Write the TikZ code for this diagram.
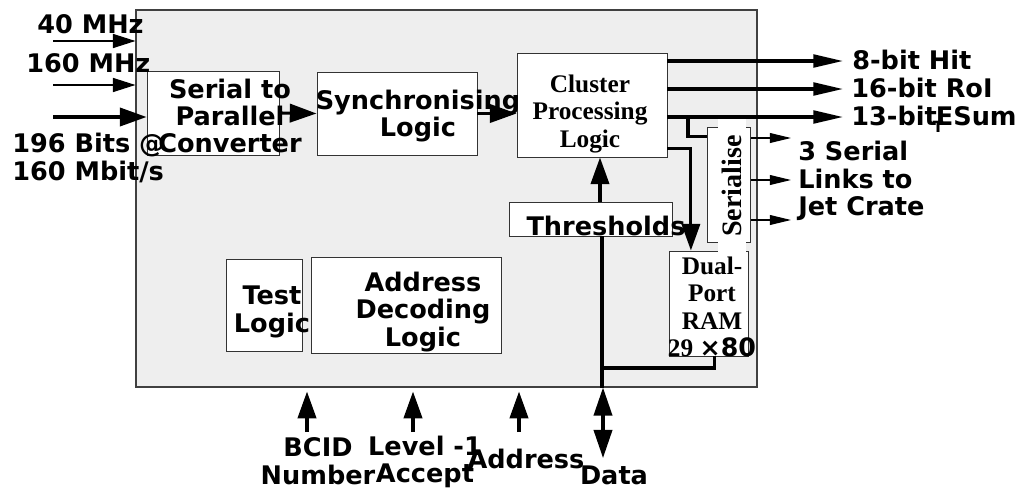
\documentclass[tikz,border=0pt]{standalone}
\usepackage{fontspec}
\setmainfont{Liberation Serif}
\setsansfont{DejaVu Sans}
\usetikzlibrary{arrows.meta}
\definecolor{boardgrey}{RGB}{238,238,238}
\tikzset{
  blk/.style={draw=black!80,line width=0.7pt,fill=white,inner sep=0pt},
  sflbl/.style={font=\sffamily\bfseries\fontsize{18.2}{19.5}\selectfont,inner sep=0pt,align=center},
  rmlbl/.style={font=\rmfamily\bfseries\fontsize{18}{19.5}\selectfont,inner sep=0pt,align=center},
  thk/.style={line width=2.2pt},
  thn/.style={line width=0.8pt},
  bigtip/.style={-{Triangle[length=19pt,width=13pt]}},
  thintip/.style={-{Triangle[length=16pt,width=10pt]}},
  outtip/.style={-{Triangle[length=21pt,width=9pt]}},
  sertip/.style={-{Triangle[length=15pt,width=7pt]}}
}
\begin{document}
\begin{tikzpicture}[x=0.25mm,y=-0.25mm]
\useasboundingbox (0,0) rectangle (1030,489);
\node[draw=black!75,line width=0.8pt,fill=boardgrey,minimum width=155.25mm,minimum height=94.25mm,inner sep=0pt] (board) at (446.5,198.5) {};

\node[blk,minimum width=33mm,minimum height=21mm] (s2p) at (213,113) {};
\node[blk,minimum width=40mm,minimum height=20.75mm] (sync) at (397,113.5) {};
\node[blk,minimum width=37.5mm,minimum height=26mm] (cpl) at (592,105) {};
\node[blk,minimum width=40.75mm,minimum height=8.5mm] (thr) at (590.5,219) {};
\node[blk,minimum width=10.75mm,minimum height=28.75mm] (ser) at (729,184.5) {};
\node[blk,minimum width=19.75mm,minimum height=26.25mm] (ram) at (708.5,303.5) {};
\node[blk,minimum width=19mm,minimum height=23mm] (tst) at (264,305) {};
\node[blk,minimum width=47.5mm,minimum height=24mm] (adl) at (406,305) {};

\node[sflbl,anchor=base west] (clk40) at (37,33) {40 MHz};
\node[sflbl,anchor=base west] (clk160) at (26,72) {160 MHz};
\node[sflbl,align=left,anchor=west] (bits) at (12,158) {196 Bits @\\160 Mbit/s};
\node[sflbl] (s2ptxt) at (230,116) {Serial to\\Parallel\\Converter};
\node[sflbl] (synctxt) at (418,116) {Synchronising\\Logic};
\node[rmlbl] (cpltxt) at (590,114) {Cluster\\Processing\\Logic};
\node[sflbl,anchor=base] (thrtxt) at (606,235) {Thresholds};
\node[rmlbl,font=\rmfamily\bfseries\fontsize{20}{20}\selectfont,rotate=90,fill=white,minimum width=33.5mm,minimum height=7mm] (sertxt) at (732,186) {Serialise};
\node[rmlbl] (ramtxt) at (712,307) {Dual-\\Port\\RAM\\29 {\sffamily ×80}};
\node[sflbl] (tsttxt) at (272,312) {Test\\Logic};
\node[sflbl] (adltxt) at (423,312) {Address\\Decoding\\Logic};
\node[sflbl,anchor=base west] (hit) at (852,69) {8-bit Hit};
\node[sflbl,anchor=base west] (roi) at (851,97) {16-bit RoI};
\node[sflbl,anchor=base west] (esum) at (851,125) {13-bit\hspace{-0.15em}\raisebox{-0.5ex}{\fontsize{11}{11}\selectfont T}\hspace{-0.3em}ESum};
\node[sflbl,align=left,anchor=west] (links) at (798,181) {3 Serial\\Links to\\Jet Crate};
\node[sflbl] (bcid) at (318,461) {BCID\\Number};
\node[sflbl] (lvl) at (425,462) {Level -1\\Accept};
\node[sflbl,anchor=base] (addr) at (526,468) {Address};
\node[sflbl,anchor=base] (data) at (614,484) {Data};

\coordinate (in40) at (53,41);
\coordinate (in160) at (53,85);
\coordinate (indata) at (53,117);
\draw[thn,thintip] (in40) -- (in40 -| board.west);
\draw[thn,thintip] (in160) -- (in160 -| board.west);
\draw[thk,bigtip] (indata) -- (indata -| s2p.west);
\draw[thk,bigtip] (s2p.east) -- (sync.west);
\draw[thk,bigtip] (sync.east) -- (sync.east -| cpl.west);

\coordinate (hitend) at (843,61);
\coordinate (roiend) at (843,89);
\coordinate (esumend) at (843,117);
\draw[thk,outtip] (cpl.east |- hitend) -- (hitend);
\draw[thk,outtip] (cpl.east |- roiend) -- (roiend);
\draw[thk,outtip] (cpl.east |- esumend) -- (esumend);
\coordinate (tap) at (688,117);
\draw[thk] (tap) |- ([yshift=-2.5mm]ser.north west);
\draw[thk,bigtip] ([yshift=2.25mm]cpl.south east) -| ([xshift=-4.4mm]ram.north);
\draw[thn,sertip] (ser.east |- 0,138) -- ++(40,0);
\draw[thn,sertip] (ser.east |- 0,180) -- ++(40,0);
\draw[thn,sertip] (ser.east |- 0,220) -- ++(40,0);
\draw[thk,bigtip] (thr.north -| 600,0) -- (cpl.south -| 600,0);

\coordinate (bus) at (602,368);
\draw[thk] (thr.south -| bus) -- (board.south -| bus);
\draw[thk] (bus) -| ([xshift=1.6mm]ram.south);
\coordinate (dataend) at (603,458);
\draw[thk,{Triangle[length=20pt,width=13pt]}-{Triangle[length=20pt,width=13pt]}] (board.south -| dataend) -- (dataend);

\coordinate (bcidin) at (307,432);
\coordinate (lvlin) at (413,432);
\coordinate (addrin) at (519,432);
\draw[thk,bigtip,shorten >=1mm] (bcidin) -- (bcidin |- board.south);
\draw[thk,bigtip,shorten >=1mm] (lvlin) -- (lvlin |- board.south);
\draw[thk,bigtip,shorten >=1mm] (addrin) -- (addrin |- board.south);
\end{tikzpicture}
\end{document}
